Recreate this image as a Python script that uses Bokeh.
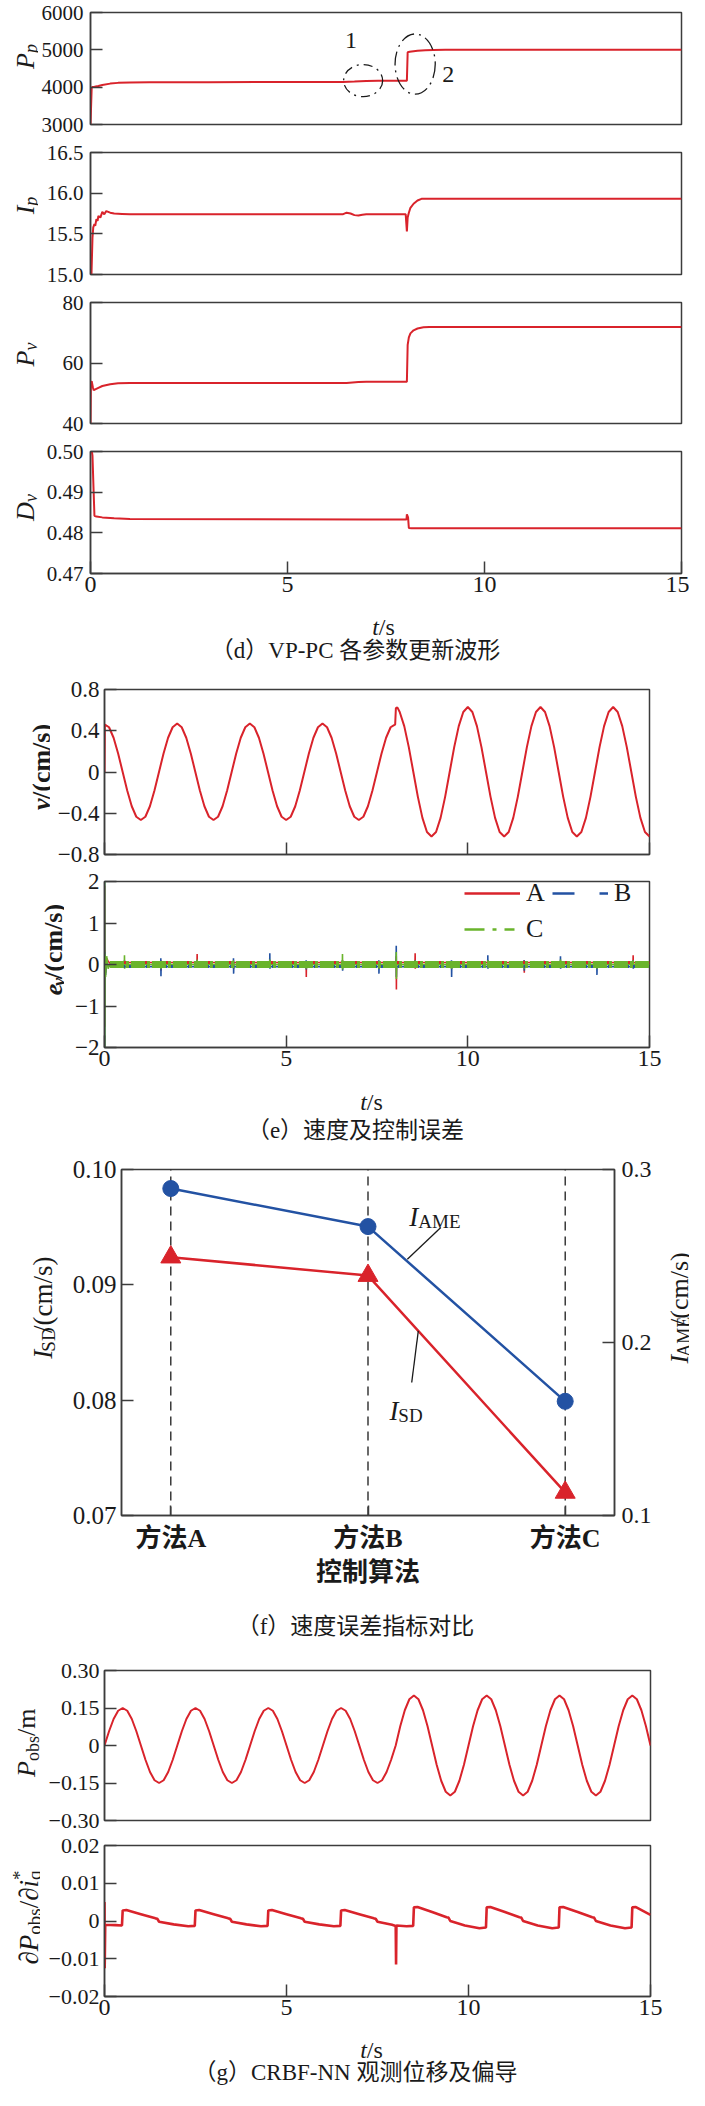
import math
from bokeh.plotting import figure
from bokeh.layouts import column, row
from bokeh.models import Range1d, LinearAxis, FixedTicker, Legend, LegendItem
from bokeh.core.properties import value
from bokeh.embed import file_html
from bokeh.resources import INLINE

# ======================= DATA =======================
# (d) VP-PC parameter update waveforms
pp_t = [0, 0.03, 0.05, 0.1, 0.2, 0.3, 0.5, 0.7, 1.0, 1.5, 3.0, 6.4, 6.7, 7.0, 7.3, 8.03, 8.05, 8.1, 8.2, 8.3, 8.5, 8.7, 9.0, 15.0]
pp = [3000, 3980, 4005, 4012, 4030, 4060, 4095, 4115, 4128, 4135, 4135, 4137, 4150, 4165, 4170, 4172, 4935, 4950, 4965, 4976, 4990, 4998, 5000, 5000]

ip_t = [0, 0.02, 0.05, 0.07, 0.1, 0.12, 0.15, 0.18, 0.2, 0.25, 0.3, 0.35, 0.4, 0.5, 0.6, 0.8, 1.0,
        6.4, 6.5, 6.6, 6.7, 6.8, 6.9, 7.0, 8.0, 8.03, 8.05, 8.08, 8.12, 8.2, 8.3, 8.4, 15.0]
ip = [14.88, 14.92, 15.45, 15.58, 15.62, 15.6, 15.68, 15.66, 15.72, 15.7, 15.77, 15.74, 15.78, 15.76, 15.75, 15.745, 15.74,
      15.74, 15.76, 15.75, 15.73, 15.725, 15.735, 15.74, 15.74, 15.53, 15.70, 15.76, 15.82, 15.87, 15.91, 15.93, 15.93]

pv_t = [0, 0.01, 0.03, 0.06, 0.08, 0.12, 0.2, 0.3, 0.5, 0.7, 1.0, 6.5, 6.8, 7.0, 8.03, 8.05, 8.08, 8.12, 8.2, 8.3, 8.45, 8.6, 15.0]
pv = [40, 53.5, 54.0, 52.0, 51.0, 51.3, 51.8, 52.4, 53.0, 53.3, 53.4, 53.4, 53.7, 53.8, 53.8, 66.0, 68.5, 69.8, 70.8, 71.4, 71.8, 71.9, 71.9]

dv_t = [0, 0.02, 0.05, 0.08, 0.1, 0.15, 0.3, 0.6, 1.0, 7.0, 8.02, 8.03, 8.06, 8.08, 8.15, 15.0]
dv = [0.5015, 0.501, 0.499, 0.490, 0.4842, 0.4840, 0.4838, 0.4836, 0.4834, 0.4833, 0.4833, 0.48455, 0.4838, 0.4812, 0.4811, 0.4811]

# (e) velocity and control error
v_t = [0.0, 0.01] + [k / 8 for k in range(1, 64)] + [7.97, 8.0, 8.02, 8.06] + [k / 8 for k in range(65, 121)]
v = [0.0, 0.46,
     0.434, 0.332, 0.18, 0.0, -0.18, -0.332, -0.434, -0.465, -0.434, -0.332, -0.18, 0.0, 0.18, 0.332, 0.434,
     0.47, 0.434, 0.332, 0.18, 0.0, -0.18, -0.332, -0.434, -0.465, -0.434, -0.332, -0.18, 0.0, 0.18, 0.332, 0.434,
     0.47, 0.434, 0.332, 0.18, 0.0, -0.18, -0.332, -0.434, -0.465, -0.434, -0.332, -0.18, 0.0, 0.18, 0.332, 0.434,
     0.47, 0.434, 0.332, 0.18, 0.0, -0.18, -0.332, -0.434, -0.465, -0.434, -0.332, -0.18, 0.0, 0.18, 0.332, 0.434,
     0.455, 0.46, 0.62, 0.627,
     0.582, 0.445, 0.241, 0.0, -0.241, -0.445, -0.582, -0.625, -0.582, -0.445, -0.241, 0.0, 0.241, 0.445, 0.582,
     0.63, 0.582, 0.445, 0.241, 0.0, -0.241, -0.445, -0.582, -0.625, -0.582, -0.445, -0.241, 0.0, 0.241, 0.445, 0.582,
     0.63, 0.582, 0.445, 0.241, 0.0, -0.241, -0.445, -0.582, -0.625, -0.582, -0.445, -0.241, 0.0, 0.241, 0.445, 0.582,
     0.63, 0.582, 0.445, 0.241, 0.0, -0.241, -0.445, -0.582, -0.625]

series_names = ["A", "B", "C"]
spk_t = [0.55, 1.55, 2.55, 3.55, 4.55, 5.55, 6.55, 7.55, 8.03, 8.55, 9.55, 10.55, 11.55, 12.55, 13.55, 14.55]
a_up = [0.08, 0.10, 0.25, 0.08, 0.10, 0.08, 0.10, 0.06, 0.20, 0.27, 0.08, 0.10, 0.10, 0.08, 0.08, 0.22]
a_dn = [-0.06, -0.15, -0.08, -0.10, -0.08, -0.30, -0.08, -0.10, -0.60, -0.10, -0.10, -0.08, -0.20, -0.08, -0.10, -0.08]
b_up = [0.10, 0.15, 0.10, 0.15, 0.27, 0.10, 0.10, 0.10, 0.45, 0.10, 0.10, 0.22, 0.10, 0.20, 0.08, 0.10]
b_dn = [-0.08, -0.28, -0.08, -0.22, -0.10, -0.12, -0.15, -0.22, -0.30, -0.08, -0.30, -0.10, -0.15, -0.10, -0.25, -0.10]
c_up = [0.22, 0.08, 0.12, 0.10, 0.12, 0.08, 0.25, 0.08, 0.30, 0.10, 0.08, 0.10, 0.08, 0.12, 0.08, 0.10]
c_dn = [-0.10, -0.10, -0.08, -0.08, -0.06, -0.10, -0.12, -0.10, -0.35, -0.06, -0.10, -0.08, -0.10, -0.08, -0.10, -0.06]
e_start_t = [0.0, 0.003, 0.006, 0.012, 0.03, 0.06, 0.1, 0.15]
a_start = [0.0, 1.9, -1.5, 0.35, -0.2, 0.15, 0.08, 0.03]
b_start = [0.0, 2.0, -2.0, 0.3, -0.25, 0.1, -0.05, -0.03]
c_start = [0.0, 2.0, -2.0, 0.25, -0.3, 0.2, -0.1, 0.0]
e_band_t = [0.15, 15.0]              # extent of the noise band
e_base = [0.05, -0.05, 0.0]          # centre of the noise band of A, B, C

# (f) velocity error index comparison
methods = ["方法A", "方法B", "方法C"]
i_sd = [0.0924, 0.0908, 0.0720]
i_ame = [0.289, 0.267, 0.166]

# (g) CRBF-NN observed displacement and partial derivative
p_t = [k / 8 for k in range(121)]
p_obs = [0.0, 0.057, 0.106, 0.139, 0.15, 0.139, 0.106, 0.057, 0.0, -0.057, -0.106, -0.139, -0.15, -0.139, -0.106, -0.057,
         0.0, 0.057, 0.106, 0.139, 0.15, 0.139, 0.106, 0.057, 0.0, -0.057, -0.106, -0.139, -0.15, -0.139, -0.106, -0.057,
         0.0, 0.057, 0.106, 0.139, 0.15, 0.139, 0.106, 0.057, 0.0, -0.057, -0.106, -0.139, -0.15, -0.139, -0.106, -0.057,
         0.0, 0.057, 0.106, 0.139, 0.15, 0.139, 0.106, 0.057, 0.0, -0.057, -0.106, -0.139, -0.15, -0.139, -0.106, -0.057,
         0.0, 0.077, 0.141, 0.185, 0.2, 0.185, 0.141, 0.077, 0.0, -0.077, -0.141, -0.185, -0.2, -0.185, -0.141, -0.077,
         0.0, 0.077, 0.141, 0.185, 0.2, 0.185, 0.141, 0.077, 0.0, -0.077, -0.141, -0.185, -0.2, -0.185, -0.141, -0.077,
         0.0, 0.077, 0.141, 0.185, 0.2, 0.185, 0.141, 0.077, 0.0, -0.077, -0.141, -0.185, -0.2, -0.185, -0.141, -0.077,
         0.0, 0.077, 0.141, 0.185, 0.2, 0.185, 0.141, 0.077, 0.0]

dp_t = [0.0, 0.005, 0.02, 0.3, 0.48,
        0.5, 0.6, 1.0, 1.4, 1.45, 1.5, 1.9, 2.3, 2.48,
        2.5, 2.6, 3.0, 3.4, 3.45, 3.5, 3.9, 4.3, 4.48,
        4.5, 4.6, 5.0, 5.4, 5.45, 5.5, 5.9, 6.3, 6.48,
        6.5, 6.6, 7.0, 7.4, 7.45, 7.5, 7.9, 8.0, 8.01, 8.02, 8.3, 8.48,
        8.5, 8.6, 9.0, 9.4, 9.45, 9.5, 9.9, 10.3, 10.48,
        10.5, 10.6, 11.0, 11.4, 11.45, 11.5, 11.9, 12.3, 12.48,
        12.5, 12.6, 13.0, 13.4, 13.45, 13.5, 13.9, 14.3, 14.48,
        14.5, 14.6, 15.0]
dp = [0.005, -0.0125, -0.001, -0.0011, -0.0012,
      0.0028, 0.0029, 0.0018, 0.0007, 0.0006, -0.0002, -0.0009, -0.0014, -0.0013,
      0.0028, 0.0029, 0.0018, 0.0007, 0.0006, -0.0002, -0.0009, -0.0014, -0.0013,
      0.0028, 0.0029, 0.0018, 0.0007, 0.0006, -0.0002, -0.0009, -0.0014, -0.0013,
      0.0028, 0.0029, 0.0018, 0.0007, 0.0006, -0.0002, -0.0010, -0.0013, -0.0115, -0.0012, -0.0014, -0.0013,
      0.0036, 0.0037, 0.0024, 0.0010, 0.0009, 0.0000, -0.0012, -0.0019, -0.0017,
      0.0036, 0.0037, 0.0024, 0.0010, 0.0009, 0.0000, -0.0012, -0.0019, -0.0017,
      0.0036, 0.0037, 0.0024, 0.0010, 0.0009, 0.0000, -0.0012, -0.0019, -0.0017,
      0.0036, 0.0037, 0.0016]

time_ticks = [0, 5, 10, 15]
time_labels = ["0", "5", "10", "15"]

# ======================= STYLE =======================
SERIF = "Liberation Serif"
MIX = "Liberation Serif, Noto Sans CJK SC"
RED = "#d9232b"
BLUE = "#2352a3"
GREEN = "#6ab42c"
INK = "#1a1a1a"
FRAME = "#3c3c3c"
PAGE_L, PAGE_R = 8, 697

W_REG = {'/': 0.278, '(': 0.333, ')': 0.333, 'c': 0.444, 'm': 0.778, 's': 0.389, 'o': 0.5, 'b': 0.5,
         'S': 0.556, 'D': 0.722, 'A': 0.722, 'M': 0.889, 'E': 0.611, 'q': 0.5, '∂': 0.494, '*': 0.5, ' ': 0.25}
W_IT = {'P': 0.611, 'I': 0.333, 'D': 0.722, 'v': 0.444, 'p': 0.5, 'e': 0.444, 'i': 0.278, 't': 0.278}
W_BOLD = {'/': 0.278, '(': 0.333, ')': 0.333, 'c': 0.444, 'm': 0.833, 's': 0.389, 'v': 0.5, 'e': 0.444}


def tw(s, size, style):
    if "bold" in style:
        tab = W_BOLD
    elif "italic" in style:
        tab = W_IT
    else:
        tab = W_REG
    return sum(tab.get(ch, 0.5) for ch in s) * size


def keyfix(k):
    return int(k) if float(k).is_integer() else k


def style_axis(ax, size):
    ax.axis_line_color = FRAME
    ax.axis_line_width = 1.5
    ax.major_tick_line_color = FRAME
    ax.major_tick_line_width = 1.5
    ax.major_tick_in = 12
    ax.major_tick_out = 0
    ax.minor_tick_line_color = None
    ax.major_label_text_font = SERIF
    ax.major_label_text_font_size = size
    ax.major_label_text_color = INK


class Box:
    """Maps page pixel positions to the data space of one figure; draws texts as text glyphs."""

    def _txt(self, px, py, text, size, font=SERIF, style="normal", align="center", baseline="middle", angle=0.0):
        self.fig.text(x=[self.dx(px)], y=[self.dy(py)], text=[text], angle=angle,
                      text_font=value(font), text_font_size=value(f"{size}px"), text_font_style=style,
                      text_color=INK, text_align=align, text_baseline=baseline)

    def label(self, text, px, py, size, font=SERIF, style="normal"):
        self._txt(px, py, text, size, font, style)

    def rich(self, parts, px, py, rotated=False, anchor="center"):
        total = 0.0
        for part in parts:
            t, st, sz, sh = part[:4]
            if len(part) < 5 or part[4]:
                total += tw(t, sz, st)
        cum = -total / 2 if anchor == "center" else 0.0
        for part in parts:
            t, st, sz, sh = part[:4]
            adv = len(part) < 5 or part[4]
            if rotated:
                bx, by, ang = px + sh, py - cum, math.pi / 2
            else:
                bx, by, ang = px + cum, py + sh, 0.0
            self._txt(bx, by, t, sz, SERIF, st, "left", "alphabetic", ang)
            if adv:
                cum += tw(t, sz, st)


class Strip(Box):
    """Axis-less figure that only carries texts (axis titles, captions)."""

    def __init__(self, top, bottom, left, right):
        self.top, self.bottom, self.left, self.right = top, bottom, left, right
        f = figure(width=right - left, height=bottom - top, x_range=Range1d(0, right - left),
                   y_range=Range1d(0, bottom - top), output_backend="svg", toolbar_location=None,
                   x_axis_location=None, y_axis_location=None,
                   min_border_left=0, min_border_right=0, min_border_top=0, min_border_bottom=0)
        f.grid.visible = False
        f.outline_line_color = None
        self.fig = f

    def dx(self, px):
        return px - self.left

    def dy(self, py):
        return self.bottom - py


class Panel(Box):
    def __init__(self, top, bottom, ft, fb, fl, fr, xr, yr, left=PAGE_L, right=PAGE_R):
        self.ft, self.fb, self.fl, self.fr, self.xr, self.yr = ft, fb, fl, fr, xr, yr
        f = figure(width=right - left, height=bottom - top, x_range=Range1d(*xr), y_range=Range1d(*yr),
                   output_backend="svg", toolbar_location=None,
                   min_border_left=fl - left, min_border_right=right - fr,
                   min_border_top=ft - top, min_border_bottom=bottom - fb)
        f.xgrid.visible = False
        f.ygrid.visible = False
        f.outline_line_color = FRAME
        f.outline_line_width = 1.5
        f.outline_line_alpha = 1.0
        self.fig = f

    def dx(self, px):
        return self.xr[0] + (px - self.fl) / (self.fr - self.fl) * (self.xr[1] - self.xr[0])

    def dy(self, py):
        return self.yr[1] - (py - self.ft) / (self.fb - self.ft) * (self.yr[1] - self.yr[0])

    def yaxis(self, ticks, labels, size="24px", standoff=5):
        ax = self.fig.left[0]
        style_axis(ax, size)
        ax.ticker = FixedTicker(ticks=ticks)
        ax.major_label_overrides = {keyfix(t): l for t, l in zip(ticks, labels)}
        ax.major_label_standoff = standoff

    def xaxis(self, mode, ticks=None, labels=None, size="24px", standoff=3, font=SERIF, style="normal"):
        ax = self.fig.below[0]
        if mode == "none":
            ax.visible = False
            return ax
        style_axis(ax, size)
        ax.ticker = FixedTicker(ticks=ticks)
        if mode == "ticks":
            ax.major_label_overrides = {keyfix(t): "" for t in ticks}
            ax.major_label_text_font_size = "1px"
            ax.major_label_standoff = 0
        else:
            ax.major_label_overrides = {keyfix(t): l for t, l in zip(ticks, labels)}
            ax.major_label_standoff = standoff
            ax.major_label_text_font = font
            ax.major_label_text_font_style = style
        return ax


def ts_label(S, px, py):
    S.rich([("t", "italic", 24, 0), ("/s", "normal", 24, 0)], px, py)


# ======================= PANEL (d) =======================
DL = 46  # left edge of the (d) plots on the page
DF = "21px"
d1 = Panel(8, 146, 20, 132, 96, 689, (0, 15), (3000, 6000), left=DL)
d1.yaxis([3000, 4000, 5000, 6000], ["3000", "4000", "5000", "6000"], DF, 7)
d1.xaxis("none")
d1.fig.line(pp_t, pp, color=RED, line_width=2)
d1.fig.ellipse(x=[6.92], y=[4175], width=[0.99], height=[861], fill_color=None,
               line_color=INK, line_width=1.3, line_dash="9 5 2 5")
d1.fig.ellipse(x=[8.24], y=[4618], width=[1.02], height=[1616], fill_color=None,
               line_color=INK, line_width=1.3, line_dash="14 5 2 5")
d1.label("1", 357.5, 48.3, 24)
d1.label("2", 455, 81.7, 24)

d2 = Panel(146, 296, 160, 282, 96, 689, (0, 15), (15.0, 16.5), left=DL)
d2.yaxis([15.0, 15.5, 16.0, 16.5], ["15.0", "15.5", "16.0", "16.5"], DF, 7)
d2.xaxis("none")
d2.fig.line(ip_t, ip, color=RED, line_width=2)

d3 = Panel(296, 445, 310, 431, 96, 689, (0, 15), (40, 80), left=DL)
d3.yaxis([40, 60, 80], ["40", "60", "80"], DF, 7)
d3.xaxis("none")
d3.fig.line(pv_t, pv, color=RED, line_width=2)

d4 = Panel(445, 611, 459, 581, 96, 689, (0, 15), (0.47, 0.50), left=DL)
d4.yaxis([0.47, 0.48, 0.49, 0.50], ["0.47", "0.48", "0.49", "0.50"], DF, 7)
d4.xaxis("labels", time_ticks, time_labels, "24px", 3)
d4.fig.line(dv_t, dv, color=RED, line_width=2)

sd = Strip(8, 611, 8, DL)
sd.rich([("P", "italic", 26, 0), ("p", "italic", 18, 5)], 33, 64, rotated=True)
sd.rich([("I", "italic", 26, 0), ("p", "italic", 18, 5)], 33, 213, rotated=True)
sd.rich([("P", "italic", 26, 0), ("v", "italic", 18, 5)], 33, 362, rotated=True)
sd.rich([("D", "italic", 26, 0), ("v", "italic", 18, 5)], 33, 515, rotated=True)

cd = Strip(611, 680, 8, 697)
ts_label(cd, 391, 634)
cd.label("（d）VP-PC 各参数更新波形", 363, 658, 23, MIX)

# ======================= PANEL (e) =======================
E1L, E2L = 58, 72
EF = "23px"
e1 = Panel(680, 876, 697, 862, 112, 657, (0, 15), (-0.8, 0.8), left=E1L)
e1.yaxis([-0.8, -0.4, 0, 0.4, 0.8], ["−0.8", "−0.4", "0", "0.4", "0.8"], EF)
e1.xaxis("ticks", time_ticks)
e1.fig.line(v_t, v, color=RED, line_width=2)
se1 = Strip(680, 876, 8, E1L)
se1.rich([("v", "bold italic", 26, 0), ("/(cm/s)", "bold", 26, 0)], 49, 779, rotated=True)

e2 = Panel(876, 1086, 889, 1055, 112, 657, (0, 15), (-2, 2), left=E2L)
e2.yaxis([-2, -1, 0, 1, 2], ["−2", "−1", "0", "1", "2"], EF)
e2.xaxis("labels", time_ticks, time_labels, "24px", 3)


def spike_series(start_v, base, up, dn):
    t, y = list(e_start_t), list(start_v)
    for ts, u, d in zip(spk_t, up, dn):
        t += [ts - 0.004, ts, ts + 0.004, ts + 0.008]
        y += [base, u, d, base]
    t.append(15.0)
    y.append(base)
    return t, y


colors = [RED, BLUE, GREEN]
band_dash = ["3 4", "3 3", "14 2 3 2"]
band_w = [3, 3, 7]
starts = [a_start, b_start, c_start]
ups = [a_up, b_up, c_up]
dns = [a_dn, b_dn, c_dn]
for i in range(3):
    tt, yy = spike_series(starts[i], e_base[i], ups[i], dns[i])
    e2.fig.line(tt, yy, color=colors[i], line_width=1.6)
for i in range(3):
    e2.fig.line(e_band_t, [e_base[i]] * 2, color=colors[i], line_width=band_w[i], line_dash=band_dash[i])

# legend glyphs (drawn outside the visible x range, only used as legend keys)
la = e2.fig.line([-3, -2], [0, 0], color=RED, line_width=2.5)
lb = e2.fig.line([-3, -2], [0, 0], color=BLUE, line_width=2.5, line_dash="22 25 9")
lc = e2.fig.line([-3, -2], [0, 0], color=GREEN, line_width=2.5, line_dash="20 8 4 8 10")
leg = Legend(items=[LegendItem(label=series_names[0], renderers=[la]),
                    LegendItem(label=series_names[1], renderers=[lb]),
                    LegendItem(label=series_names[2], renderers=[lc])],
             orientation="horizontal", ncols=2, location=(360, 103),
             glyph_width=56, glyph_height=24, label_height=24,
             label_standoff=6, spacing=6, padding=0, margin=0,
             label_text_font=SERIF, label_text_font_size="26px", label_text_color=INK,
             border_line_color=None, background_fill_alpha=0)
e2.fig.add_layout(leg)
se2 = Strip(876, 1086, 8, E2L)
se2.rich([("e", "bold italic", 26, 0), ("v", "bold italic", 18, 5), ("/(cm/s)", "bold", 26, 0)], 61, 972, rotated=True)

ce = Strip(1086, 1160, 8, 697)
ts_label(ce, 379, 1109)
ce.label("（e）速度及控制误差", 363, 1138, 23, MIX)

# ======================= PANEL (f) =======================
FL, FR = 66, 662
fp = Panel(1160, 1608, 1177, 1523, 129, 624, (-0.25, 2.25), (0.07, 0.10), left=FL, right=FR)
fp.yaxis([0.07, 0.08, 0.09, 0.10], ["0.07", "0.08", "0.09", "0.10"], "25px", 5)
cat_x = list(range(len(methods)))
fx = fp.xaxis("labels", cat_x, methods, "26px", 8, MIX, "bold")
fx.major_tick_in = 10
fx.axis_label = "控制算法"
fx.axis_label_text_font = MIX
fx.axis_label_text_font_style = "bold"
fx.axis_label_text_font_size = "26px"
fx.axis_label_text_color = INK
fx.axis_label_standoff = 2
fp.fig.extra_y_ranges = {"r": Range1d(0.1, 0.3)}
rax = LinearAxis(y_range_name="r")
style_axis(rax, "24px")
rax.ticker = FixedTicker(ticks=[0.1, 0.2, 0.3])
rax.major_label_overrides = {0.1: "0.1", 0.2: "0.2", 0.3: "0.3"}
rax.major_label_standoff = 7
fp.fig.add_layout(rax, "right")

fp.fig.segment(x0=cat_x, y0=[fp.yr[0]] * 3, x1=cat_x, y1=[fp.yr[1]] * 3,
               line_color=INK, line_dash="9 6", line_width=1.3)
fp.fig.line(cat_x, i_ame, y_range_name="r", color=BLUE, line_width=2.5)
fp.fig.scatter(cat_x, i_ame, y_range_name="r", marker="circle", size=16, color=BLUE)
fp.fig.line(cat_x, i_sd, color=RED, line_width=2.5)
fp.fig.scatter(cat_x, i_sd, marker="triangle", size=20, color=RED)
fp.fig.line([fp.dx(449.6), fp.dx(416)], [fp.dy(1235), fp.dy(1266.7)], color=INK, line_width=1.3)
fp.fig.line([fp.dx(420.4), fp.dx(427)], [fp.dy(1390), fp.dy(1338.3)], color=INK, line_width=1.3)
fp.rich([("I", "italic", 27, 0), ("AME", "normal", 19, 5)], 418, 1224, anchor="left")
fp.rich([("I", "italic", 27, 0), ("SD", "normal", 19, 5)], 398, 1418, anchor="left")

sfl = Strip(1160, 1608, 8, FL)
sfl.rich([("I", "italic", 27, 0), ("SD", "normal", 19, 6), ("/(cm/s)", "normal", 27, 0)], 50, 1350, rotated=True)
sfr = Strip(1160, 1608, FR, 697)
sfr.rich([("I", "italic", 26, 0), ("AME", "normal", 18, 4), ("/(cm/s)", "normal", 26, 0)], 687, 1350, rotated=True)

cf = Strip(1608, 1655, 8, 697)
cf.label("（f）速度误差指标对比", 363, 1634, 23, MIX)

# ======================= PANEL (g) =======================
GL = 48
GF = "22px"
g1 = Panel(1655, 1840, 1678, 1828, 112, 658, (0, 15), (-0.30, 0.30), left=GL)
g1.yaxis([-0.3, -0.15, 0, 0.15, 0.3], ["−0.30", "−0.15", "0", "0.15", "0.30"], GF)
g1.xaxis("none")
g1.fig.line(p_t, p_obs, color=RED, line_width=2)

g2 = Panel(1840, 2034, 1853, 2004, 112, 658, (0, 15), (-0.02, 0.02), left=GL)
g2.yaxis([-0.02, -0.01, 0, 0.01, 0.02], ["−0.02", "−0.01", "0", "0.01", "0.02"], GF)
g2.xaxis("labels", time_ticks, time_labels, "24px", 3)
g2.fig.line(dp_t, dp, color=RED, line_width=2.6)

sg = Strip(1655, 2034, 8, GL)
sg.rich([("P", "italic", 26, 0), ("obs", "normal", 18, 6), (" /m", "normal", 26, 0)], 34, 1747, rotated=True)
sg.rich([("∂", "normal", 27, 0), ("P", "italic", 27, 0), ("obs", "normal", 19, 6), ("/", "normal", 27, 0),
         ("∂", "normal", 27, 0), ("i", "italic", 27, 0), ("*", "normal", 19, -9, False), ("q", "normal", 19, 6)],
        36, 1925, rotated=True)

cg = Strip(2034, 2097, 8, 697)
ts_label(cg, 379, 2057)
cg.label("（g）CRBF-NN 观测位移及偏导", 363, 2080, 23, MIX)

layout = column(
    row(sd.fig, column(d1.fig, d2.fig, d3.fig, d4.fig, spacing=0), spacing=0),
    cd.fig,
    row(se1.fig, e1.fig, spacing=0),
    row(se2.fig, e2.fig, spacing=0),
    ce.fig,
    row(sfl.fig, fp.fig, sfr.fig, spacing=0),
    cf.fig,
    row(sg.fig, column(g1.fig, g2.fig, spacing=0), spacing=0),
    cg.fig,
    spacing=0,
)
open("out.html", "w").write(file_html(layout, INLINE, title="chart"))
